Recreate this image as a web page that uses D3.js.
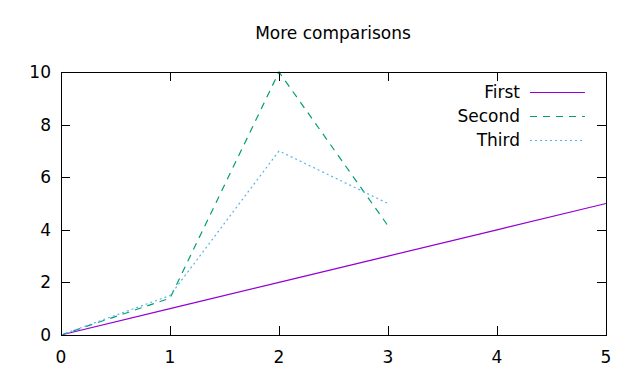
<!DOCTYPE html>
<html>
<head>
<meta charset="utf-8">
<script src="https://cdn.jsdelivr.net/npm/d3@7"></script>
<style>
  body { margin: 0; background: #fff; }
  svg { display: block; font-family: "DejaVu Sans", sans-serif; }
</style>
</head>
<body>
<div id="chart_div"></div>
<script>
// Series data
const xFirst = [0, 1, 2, 3, 4, 5];
const yFirst = [0, 1, 2, 3, 4, 5];
const xSecond = [0, 1, 2, 3];
const ySecond = [0, 1.4, 10, 4.15];
const xThird = [0, 1, 2, 3];
const yThird = [0, 1.5, 7, 5];
const seriesNames = ["First", "Second", "Third"];
const xTicks = [0, 1, 2, 3, 4, 5];
const yTicks = [0, 2, 4, 6, 8, 10];

const width = 640, height = 384;
const marginLeft = 61, marginRight = 34, marginTop = 72, marginBottom = 49;
const fontSize = 17;

const svg = d3.select("#chart_div").append("svg")
  .attr("width", width)
  .attr("height", height);

const x = d3.scaleLinear().domain([0, 5]).range([marginLeft, width - marginRight]);
const y = d3.scaleLinear().domain([0, 10]).range([height - marginBottom, marginTop]);

// Title
svg.append("text")
  .attr("x", 333).attr("y", 39)
  .attr("text-anchor", "middle")
  .attr("font-size", fontSize)
  .text("More comparisons");

const tickLen = 9;
const gTicks = svg.append("g").attr("stroke", "#000").attr("stroke-width", 1);

// mirrored, inward ticks on all four sides
xTicks.forEach(t => {
  const px = Math.round(x(t)) + 0.5;
  gTicks.append("line").attr("x1", px).attr("x2", px)
    .attr("y1", y(0)).attr("y2", y(0) - tickLen);
  gTicks.append("line").attr("x1", px).attr("x2", px)
    .attr("y1", y(10)).attr("y2", y(10) + tickLen);
});
yTicks.forEach(t => {
  const py = Math.round(y(t)) + 0.5;
  gTicks.append("line").attr("y1", py).attr("y2", py)
    .attr("x1", x(0)).attr("x2", x(0) + tickLen);
  gTicks.append("line").attr("y1", py).attr("y2", py)
    .attr("x1", x(5)).attr("x2", x(5) - tickLen);
});

// tick labels
svg.append("g").selectAll("text").data(xTicks).join("text")
  .attr("x", d => x(d)).attr("y", height - marginBottom + 28)
  .attr("text-anchor", "middle").attr("font-size", fontSize)
  .text(d => d);
svg.append("g").selectAll("text").data(yTicks).join("text")
  .attr("x", marginLeft - 10).attr("y", d => y(d) + 6)
  .attr("text-anchor", "end").attr("font-size", fontSize)
  .text(d => d);

// series lines
const line = d3.line().x(d => x(d[0])).y(d => y(d[1]));
const series = [
  { pts: d3.zip(xFirst, yFirst), color: "#9400d3", dash: null },
  { pts: d3.zip(xSecond, ySecond), color: "#009e73", dash: "7,6" },
  { pts: d3.zip(xThird, yThird), color: "#56b4e9", dash: "2,3" }
];
series.forEach(s => {
  svg.append("path")
    .attr("d", line(s.pts))
    .attr("fill", "none")
    .attr("stroke", s.color)
    .attr("stroke-width", 1.2)
    .attr("stroke-dasharray", s.dash);
});

// border
svg.append("rect")
  .attr("x", x(0) + 0.5).attr("y", y(10) + 0.5)
  .attr("width", x(5) - x(0)).attr("height", y(0) - y(10))
  .attr("fill", "none").attr("stroke", "#000").attr("stroke-width", 1);

// legend
const legend = svg.append("g");
series.forEach((s, i) => {
  const ly = 92 + i * 24;
  legend.append("text")
    .attr("x", 520).attr("y", ly + 6)
    .attr("text-anchor", "end").attr("font-size", fontSize)
    .text(seriesNames[i]);
  legend.append("line")
    .attr("x1", 530).attr("x2", 585)
    .attr("y1", ly + 0.5).attr("y2", ly + 0.5)
    .attr("stroke", s.color).attr("stroke-width", 1.2)
    .attr("stroke-dasharray", s.dash);
});
</script>
</body>
</html>
